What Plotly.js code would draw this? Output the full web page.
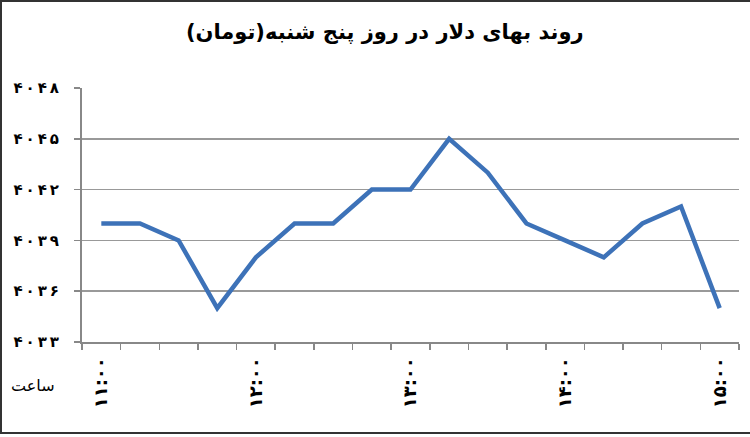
<!DOCTYPE html>
<html>
<head>
<meta charset="utf-8">
<script src="https://cdn.plot.ly/plotly-3.0.1.min.js"></script>
<style>
html,body{margin:0;padding:0;background:#fff;}
#wrap{position:relative;width:750px;height:437px;}
#chart{width:750px;height:437px;}
#frame{position:absolute;left:0;top:0;width:750px;height:434px;box-sizing:border-box;border-left:2px solid #333;border-top:2px solid #333;border-bottom:2px solid #333;pointer-events:none;}
</style>
</head>
<body>
<div id="wrap"><div id="chart"></div><div id="frame"></div></div>
<script>
const times = ['۱۱:۰۰','۱۱:۱۵','۱۱:۳۰','۱۱:۴۵','۱۲:۰۰','۱۲:۱۵','۱۲:۳۰','۱۲:۴۵','۱۳:۰۰','۱۳:۱۵','۱۳:۳۰','۱۳:۴۵','۱۴:۰۰','۱۴:۱۵','۱۴:۳۰','۱۴:۴۵','۱۵:۰۰'];
const prices = [4040,4040,4039,4035,4038,4040,4040,4042,4042,4045,4043,4040,4039,4038,4040,4041,4035];
const yTickVals = [4033,4036,4039,4042,4045,4048];
const yTickText = ['۴\u2009۰\u2009۳\u2009۳','۴\u2009۰\u2009۳\u2009۶','۴\u2009۰\u2009۳\u2009۹','۴\u2009۰\u2009۴\u2009۲','۴\u2009۰\u2009۴\u2009۵','۴\u2009۰\u2009۴\u2009۸'];
const xTickText = times.map((t,i)=> i%4===0 ? t : '');
const titleText = 'روند بهای دلار در روز پنج شنبه(تومان)';
const xLabel = 'ساعت';

const trace = {
  x: times, y: prices, type:'scatter', mode:'lines',
  line:{color:'#3d72b8', width:4.5, shape:'linear'},
  hoverinfo:'none'
};
const layout = {
  width:750, height:437,
  margin:{l:82, r:11, t:88, b:95},
  paper_bgcolor:'#fff', plot_bgcolor:'#fff',
  showlegend:false,
  title:{text:'<b>'+titleText+'</b>', x:0.513, xanchor:'center', y:0.928, yanchor:'middle',
    font:{family:'DejaVu Sans', size:21, color:'#000'}},
  xaxis:{
    type:'category', tickson:'boundaries',
    tickmode:'array', tickvals:times, ticktext:xTickText,
    tickangle:-90, ticks:'outside', ticklen:6, tickcolor:'#888', tickwidth:1.5,
    showline:true, linecolor:'#888', linewidth:2,
    showgrid:false, zeroline:false,
    tickfont:{family:'DejaVu Sans', size:18, color:'#000', weight:'bold'},
    ticklabelstandoff:6,
    range:[-0.5,16.5], fixedrange:true
  },
  yaxis:{
    range:[4033,4048], tickmode:'array', tickvals:yTickVals, ticktext:yTickText,
    ticks:'outside', ticklen:6, tickcolor:'#888', tickwidth:1.5,
    showline:true, linecolor:'#888', linewidth:2,
    showgrid:true, gridcolor:'#999', gridwidth:1.5, zeroline:false,
    tickfont:{family:'DejaVu Sans', size:15, color:'#000', weight:'bold'},
    ticklabelstandoff:12, fixedrange:true
  },
  annotations:[{
    text:xLabel, xref:'paper', yref:'paper', x:-0.074, y:-0.17, xanchor:'center', yanchor:'middle',
    showarrow:false, font:{family:'DejaVu Sans', size:16, color:'#000'}
  }]
};
Plotly.newPlot('chart',[trace],layout,{staticPlot:true, displayModeBar:false});
</script>
</body>
</html>
